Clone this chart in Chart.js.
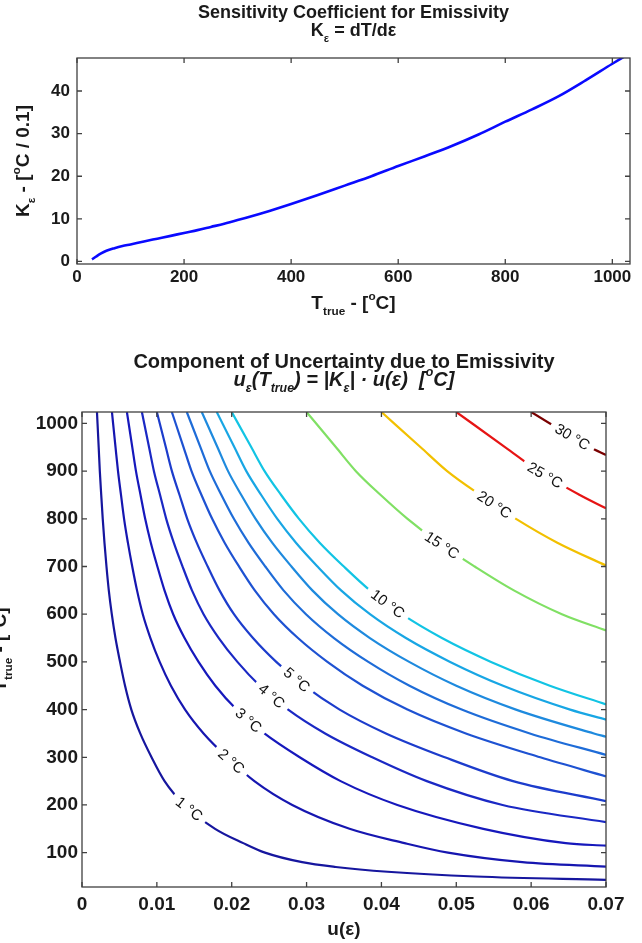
<!DOCTYPE html>
<html><head><meta charset="utf-8">
<script src="https://cdn.jsdelivr.net/npm/chart.js@4.4.1/dist/chart.umd.min.js"></script>
<style>
html,body{margin:0;padding:0;background:#fff;}
#topChart{position:absolute;left:0;top:0;}
#botChart{position:absolute;left:0;top:330px;}
</style></head><body>
<canvas id="topChart" width="642" height="330"></canvas>
<canvas id="botChart" width="642" height="613"></canvas>
<script>
// ---------------- DATA ----------------
// Top chart: sensitivity coefficient K_eps vs T_true
const kTemps  = [28,35,45,55,70,85,100,125,150,175,200,225,250,275,300,350,400,450,500,550,600,650,700,750,800,850,900,950,1000,1025];
const kValues = [0.5,1.1,1.9,2.5,3.1,3.6,4.0,4.7,5.35,6.0,6.7,7.35,8.1,8.85,9.7,11.5,13.5,15.6,17.8,20.0,22.4,24.7,27.1,29.8,32.8,35.7,38.8,42.5,46.4,48.3];
const kTempTicks  = [0,200,400,600,800,1000];
const kValueTicks = [0,10,20,30,40];

// Bottom chart: contour lines of u_eps(T_true); u(eps) values read at contourTemps
const contourLevels = [1,2,3,4,5,6,7,8,9,10,15,20,25,30];
const contourTemps  = [1024,950,900,850,800,750,700,650,600,550,500,450,400,350,300,250,200,150,120,100,80,70,60,50];
const u1  = [0.00200,0.00223,0.00238,0.00257,0.00277,0.00300,0.00327,0.00358,0.00398,0.00447,0.00508,0.00575,0.00659,0.00778,0.00929,0.01103,0.01368,0.01778,0.02154,0.02444,0.02941,0.03390,0.04082,0.05263];
const u2  = [0.00400,0.00448,0.00481,0.00521,0.00562,0.00613,0.00671,0.00735,0.00812,0.00914,0.01038,0.01188,0.01377,0.01624,0.01939,0.02303,0.02809,0.03574,0.04308,0.04889,0.05882];
const u3  = [0.00600,0.00672,0.00721,0.00782,0.00844,0.00919,0.01007,0.01102,0.01218,0.01370,0.01557,0.01781,0.02065,0.02436,0.02908,0.03455,0.04213,0.05361,0.06462];
const u4  = [0.00800,0.00896,0.00961,0.01043,0.01125,0.01226,0.01343,0.01469,0.01624,0.01827,0.02076,0.02375,0.02754,0.03248,0.03878,0.04606,0.05618];
const u5  = [0.01000,0.01120,0.01201,0.01303,0.01406,0.01532,0.01679,0.01837,0.02030,0.02284,0.02595,0.02969,0.03442,0.04060,0.04847,0.05758];
const u6  = [0.01200,0.01357,0.01463,0.01596,0.01739,0.01905,0.02098,0.02308,0.02564,0.02885,0.03278,0.03750,0.04348,0.05128,0.06122];
const u7  = [0.01400,0.01583,0.01707,0.01862,0.02029,0.02223,0.02448,0.02692,0.02992,0.03366,0.03825,0.04375,0.05072,0.05983];
const u8  = [0.01600,0.01810,0.01951,0.02128,0.02319,0.02540,0.02798,0.03077,0.03419,0.03846,0.04371,0.05000,0.05797,0.06838];
const u9  = [0.01800,0.02036,0.02195,0.02394,0.02609,0.02858,0.03147,0.03461,0.03847,0.04327,0.04918,0.05625,0.06521];
const u10 = [0.02000,0.02262,0.02439,0.02660,0.02899,0.03175,0.03497,0.03846,0.04274,0.04808,0.05464,0.06250];
const u15 = [0.03000,0.03393,0.03659,0.03990,0.04349,0.04763,0.05246,0.05769,0.06411];
const u20 = [0.04000,0.04524,0.04878,0.05320,0.05798,0.06350];
const u25 = [0.05000,0.05655,0.06098,0.06650];
const u30 = [0.06000,0.06786];
const contourU = [u1,u2,u3,u4,u5,u6,u7,u8,u9,u10,u15,u20,u25,u30];
// where each contour leaves the plot through the right edge u(eps) = 0.07
const edgeU = 0.07;
const edgeTemps = [42.8,70.7,114.7,164,208,260,305,343,379,411,566,702,822,934];
// inline contour labels
const labelLevels = [1,2,3,4,5,10,15,20,25,30];
const labelTemps  = [192,292,378,429,463,622,745,830,892,972];
const uTicks      = [0,0.01,0.02,0.03,0.04,0.05,0.06,0.07];
const uTickLabels = ['0','0.01','0.02','0.03','0.04','0.05','0.06','0.07'];
const tTicks      = [100,200,300,400,500,600,700,800,900,1000];

// ---------------- STYLE ----------------
const FONT = "'Liberation Sans', Arial, Helvetica, sans-serif";
const TEXT = '#1a1a1a';
const contourColors = ['#16169e','#1616b0','#1618bc','#1a28c4','#1c3ccc','#1e52d2','#1e6cd8','#1e8ade','#18a6e4','#12c4e4','#80e064','#f2c000','#e61414','#7a0000'];

function fontStr(size, weight, style){ return `${style||'normal'} ${weight||'normal'} ${size}px ${FONT}`; }

function drawRich(ctx, it, area){
  const size = it.size;
  const x = it.x === 'center' ? (area.left + area.right)/2 : it.x;
  const y = it.y === 'center' ? (area.top + area.bottom)/2 : it.y;
  ctx.save();
  ctx.translate(x, y);
  if (it.rotate) ctx.rotate(it.rotate);
  ctx.fillStyle = TEXT;
  ctx.textBaseline = 'middle';
  ctx.textAlign = 'left';
  const parts = it.segs.map(s => {
    const small = s.sub || s.sup;
    const f = fontStr(small ? size*0.62 : size, it.weight, it.style);
    ctx.font = f;
    return {t:s.t, f, w:ctx.measureText(s.t).width, dy: s.sub ? size*0.42 : (s.sup ? -size*0.38 : 0)};
  });
  const total = parts.reduce((a,p)=>a+p.w,0);
  let cx = -total/2;
  parts.forEach(p => { ctx.font = p.f; ctx.fillText(p.t, cx, p.dy); cx += p.w; });
  ctx.restore();
}
function makeRichPlugin(items){
  return { id:'richText', afterDraw(chart){ items.forEach(it => drawRich(chart.ctx, it, chart.chartArea)); } };
}
const boxPlugin = {
  id:'matlabBox',
  afterDatasetsDraw(chart){
    const {ctx, chartArea:a, scales} = chart;
    ctx.save();
    ctx.strokeStyle = '#404040';
    ctx.lineWidth = 1.3;
    ctx.beginPath();
    const L = 5;
    scales.x.ticks.forEach(t => {
      const px = scales.x.getPixelForValue(t.value);
      ctx.moveTo(px, a.bottom); ctx.lineTo(px, a.bottom - L);
      ctx.moveTo(px, a.top); ctx.lineTo(px, a.top + L);
    });
    scales.y.ticks.forEach(t => {
      const py = scales.y.getPixelForValue(t.value);
      ctx.moveTo(a.left, py); ctx.lineTo(a.left + L, py);
      ctx.moveTo(a.right, py); ctx.lineTo(a.right - L, py);
    });
    ctx.stroke();
    ctx.strokeRect(a.left, a.top, a.right - a.left, a.bottom - a.top);
    ctx.restore();
  }
};
const contourLabelPlugin = {
  id:'contourLabels',
  afterDatasetsDraw(chart){
    const {ctx, chartArea:a, scales} = chart;
    ctx.save();
    ctx.beginPath(); ctx.rect(a.left, a.top, a.right-a.left, a.bottom-a.top); ctx.clip();
    labelLevels.forEach((lev, k) => {
      const di = contourLevels.indexOf(lev);
      const pts = chart.getDatasetMeta(di).data;
      const yp = scales.y.getPixelForValue(labelTemps[k]);
      for (let j=0;j<pts.length-1;j++){
        const p0 = pts[j], p1 = pts[j+1];
        if ((p0.y-yp)*(p1.y-yp) <= 0 && p1.y !== p0.y){
          const t = (yp-p0.y)/(p1.y-p0.y);
          const x = p0.x + t*(p1.x-p0.x);
          const ang = Math.atan2(p1.y-p0.y, p1.x-p0.x);
          const txt = lev + ' °C';
          ctx.font = fontStr(15, 'normal');
          const w = ctx.measureText(txt).width;
          ctx.save();
          ctx.translate(x, yp); ctx.rotate(ang);
          ctx.fillStyle = '#ffffff';
          ctx.fillRect(-w/2-6, -8, w+12, 16);
          ctx.fillStyle = '#111';
          ctx.textAlign = 'center'; ctx.textBaseline = 'middle';
          ctx.fillText(txt, 0, 1);
          ctx.restore();
          break;
        }
      }
    });
    ctx.restore();
  }
};

const commonOpts = {
  responsive:false, animation:false, events:[],
  plugins:{legend:{display:false}, tooltip:{enabled:false}}
};

// ---------------- TOP CHART ----------------
new Chart(document.getElementById('topChart'), {
  type:'scatter',
  data:{ datasets:[{
    data: kTemps.map((t,i)=>({x:t, y:kValues[i]})),
    showLine:true, borderColor:'#0a0aff', borderWidth:2.6, pointRadius:0,
    cubicInterpolationMode:'monotone', fill:false
  }]},
  options:Object.assign({}, commonOpts, {
    layout:{padding:{top:58, right:12, bottom:0, left:0}},
    scales:{
      x:{type:'linear', min:0, max:1033,
         afterBuildTicks:s=>{ s.ticks = kTempTicks.map(v=>({value:v})); },
         afterFit:s=>{ s.height = 66; },
         grid:{display:false, drawTicks:false}, border:{display:false},
         ticks:{color:TEXT, padding:3, maxRotation:0, autoSkip:false, callback:v=>String(v),
                font:{family:FONT, size:17, weight:'bold'}}},
      y:{type:'linear', min:-0.6, max:47.75,
         afterBuildTicks:s=>{ s.ticks = kValueTicks.map(v=>({value:v})); },
         afterFit:s=>{ s.width = 77; },
         grid:{display:false, drawTicks:false}, border:{display:false},
         ticks:{color:TEXT, padding:7, autoSkip:false, callback:v=>String(v),
                font:{family:FONT, size:17, weight:'bold'}}}
    }
  }),
  plugins:[boxPlugin, makeRichPlugin([
    {segs:[{t:'Sensitivity Coefficient for Emissivity'}], size:18, weight:'bold', x:'center', y:13},
    {segs:[{t:'K'},{t:'ε',sub:true},{t:' = dT/dε'}], size:18, weight:'bold', x:'center', y:31},
    {segs:[{t:'T'},{t:'true',sub:true},{t:' - ['},{t:'o',sup:true},{t:'C]'}], size:19, weight:'bold', x:'center', y:304},
    {segs:[{t:'K'},{t:'ε',sub:true},{t:' - ['},{t:'o',sup:true},{t:'C / 0.1]'}], size:19, weight:'bold', x:24, y:'center', rotate:-Math.PI/2}
  ])]
});

// ---------------- BOTTOM CHART ----------------
const contourDatasets = contourLevels.map((lev, i) => ({
  label: lev + ' °C',
  data: contourU[i].map((u,j)=>({x:u, y:contourTemps[j]})).concat([{x:edgeU, y:edgeTemps[i]}]),
  showLine:true, borderColor:contourColors[i], borderWidth:2.2, pointRadius:0,
  cubicInterpolationMode:'monotone', fill:false
}));

new Chart(document.getElementById('botChart'), {
  type:'scatter',
  data:{ datasets: contourDatasets },
  options:Object.assign({}, commonOpts, {
    layout:{padding:{top:82, right:36, bottom:0, left:0}},
    scales:{
      x:{type:'linear', min:0, max:0.07,
         afterBuildTicks:s=>{ s.ticks = uTicks.map(v=>({value:v})); },
         afterFit:s=>{ s.height = 56; },
         grid:{display:false, drawTicks:false}, border:{display:false},
         ticks:{color:TEXT, padding:6, maxRotation:0, autoSkip:false,
                callback:(v,i)=>uTickLabels[i],
                font:{family:FONT, size:19, weight:'bold'}}},
      y:{type:'linear', min:28, max:1024,
         afterBuildTicks:s=>{ s.ticks = tTicks.map(v=>({value:v})); },
         afterFit:s=>{ s.width = 82; },
         grid:{display:false, drawTicks:false}, border:{display:false},
         ticks:{color:TEXT, padding:4, autoSkip:false, callback:v=>String(v),
                font:{family:FONT, size:19, weight:'bold'}}}
    }
  }),
  plugins:[contourLabelPlugin, boxPlugin, makeRichPlugin([
    {segs:[{t:'Component of Uncertainty due to Emissivity'}], size:20, weight:'bold', x:'center', y:32},
    {segs:[{t:'u'},{t:'ε',sub:true},{t:'(T'},{t:'true',sub:true},{t:') = |K'},{t:'ε',sub:true},{t:'| · u(ε)  ['},{t:'o',sup:true},{t:'C]'}], size:20, weight:'bold', style:'italic', x:'center', y:50},
    {segs:[{t:'u(ε)'}], size:19, weight:'bold', x:'center', y:600},
    {segs:[{t:'T'},{t:'true',sub:true},{t:' - ['},{t:'o',sup:true},{t:'C]'}], size:19, weight:'bold', x:1, y:'center', rotate:-Math.PI/2}
  ])]
});
</script>
</body></html>
